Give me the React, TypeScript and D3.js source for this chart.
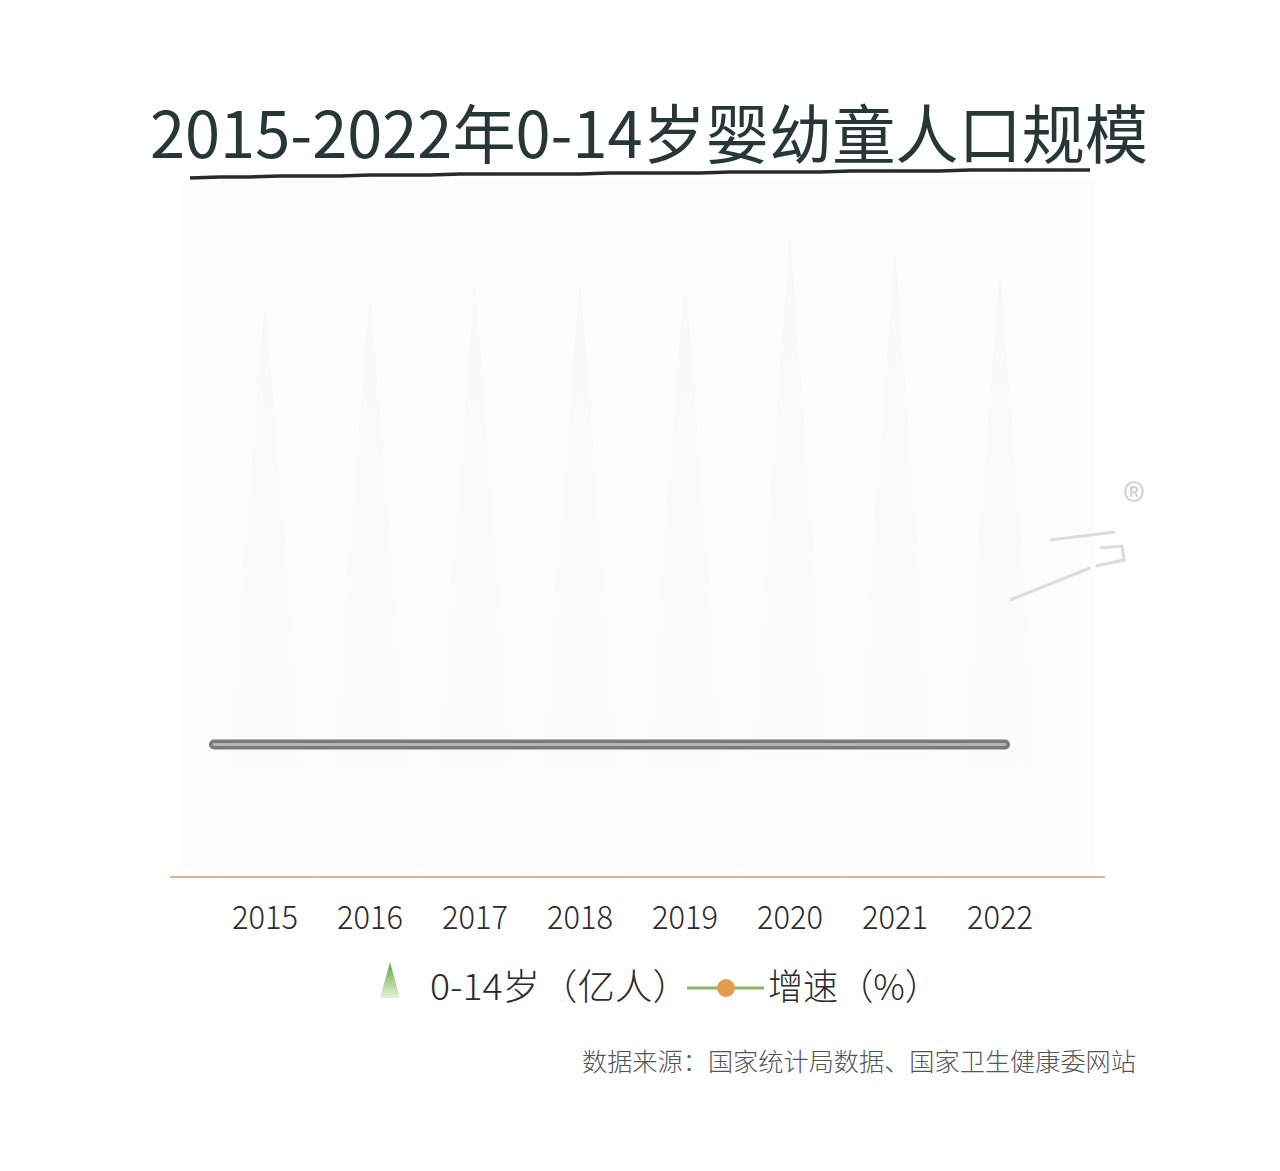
import React from "react";
import * as d3 from "d3";

const years = ["2015", "2016", "2017", "2018", "2019", "2020", "2021", "2022"];
// 0-14岁 (亿人) — bars are washed out in the reference, drawn nearly white
const population = [2.27, 2.3, 2.33, 2.35, 2.37, 2.53, 2.47, 2.39];
// 增速 (%) — the line reads as flat in the reference
const growth = [0.5, 0.5, 0.5, 0.5, 0.5, 0.5, 0.5, 0.5];

const TITLE = "2015-2022年0-14岁婴幼童人口规模";
const LEGEND_BAR = "0-14岁（亿人）";
const LEGEND_LINE = "增速（%）";
const SOURCE = "数据来源：国家统计局数据、国家卫生健康委网站";

const W = 1280;
const H = 1171;
const FONT = "'Noto Sans CJK SC', 'Noto Sans', sans-serif";

export default function App() {
  const x = d3.scalePoint<string>().domain(years).range([265, 1000]);
  const xLine = d3.scaleLinear().domain([0, years.length - 1]).range([214, 1005]);
  const y = d3.scaleLinear().domain([0, 2.7]).range([877, 190]);
  const yG = d3.scaleLinear().domain([-5, 5]).range([882, 632]);

  const line = d3
    .line<number>()
    .x((_, i) => xLine(i))
    .y((d) => yG(d))
    .curve(d3.curveMonotoneX);

  const tri = (cx: number, top: number, base: number, hw: number) =>
    `M${cx - hw},${base}L${cx},${top}L${cx + hw},${base}Z`;

  // wavy dark rule under the title
  const ruleX = d3.range(190, 1092, 30);
  const ruleY = [178, 177, 177, 176, 176, 176, 175, 175, 175, 174, 174, 174, 174, 174, 173, 173, 173, 173, 172, 172, 172, 172, 171, 171, 171, 171, 170, 170, 170, 170, 170];
  const rule = d3
    .line<number>()
    .x((d) => d)
    .y((_, i) => ruleY[Math.min(i, ruleY.length - 1)]);

  return (
    <div style={{ position: "absolute", left: 0, top: 0 }}>
      <svg width={W} height={H} viewBox={`0 0 ${W} ${H}`} style={{ display: "block", background: "#fff" }}>
        <defs>
          <linearGradient id="legTri" x1="0" y1="0" x2="0" y2="1">
            <stop offset="0%" stopColor="#5aa83a" />
            <stop offset="100%" stopColor="#e8f2dc" />
          </linearGradient>
          <linearGradient id="barTri" x1="0" y1="0" x2="0" y2="1">
            <stop offset="0%" stopColor="#f9f9f9" />
            <stop offset="100%" stopColor="#fcfcfc" />
          </linearGradient>
        </defs>

        {/* faint plot panel */}
        <rect x={182} y={180} width={912} height={690} fill="#fcfcfc" />

        {/* bars (pictorial triangles) */}
        {population.map((v, i) => (
          <path key={years[i]} d={tri(x(years[i])!, y(v), 877, 48)} fill="url(#barTri)" />
        ))}

        {/* title */}
        <text
          x={649}
          y={158}
          textAnchor="middle"
          fontFamily={FONT}
          fontSize={64}
          fontWeight={400}
          fill="#263833"
          textLength={998}
          lengthAdjust="spacingAndGlyphs"
        >
          {TITLE}
        </text>

        {/* dark rule under title */}
        <path d={rule(ruleX) || ""} fill="none" stroke="#2a2a2a" strokeWidth={3.5} />

        {/* growth line (rendered grey tube) */}
        <path d={line(growth) || ""} fill="none" stroke="#7a7a7a" strokeWidth={10} strokeLinecap="round" />
        <path d={line(growth) || ""} fill="none" stroke="#b5b5b5" strokeWidth={3} strokeLinecap="round" />

        {/* x axis */}
        <line x1={170} x2={1105} y1={877} y2={877} stroke="#d8b88e" strokeWidth={2} />
        {years.map((yr) => (
          <text
            key={yr}
            x={x(yr)}
            y={929}
            textAnchor="middle"
            fontFamily={FONT}
            fontSize={33}
            fontWeight={300}
            fill="#2b2b2b"
            textLength={66}
            lengthAdjust="spacingAndGlyphs"
          >
            {yr}
          </text>
        ))}

        {/* legend */}
        <path d="M390,962L400,998L380,998Z" fill="url(#legTri)" />
        <text
          x={430}
          y={1000}
          fontFamily={FONT}
          fontSize={36}
          fontWeight={300}
          fill="#2b2b2b"
          textLength={260}
          lengthAdjust="spacingAndGlyphs"
        >
          {LEGEND_BAR}
        </text>
        <line x1={687} x2={764} y1={988} y2={988} stroke="#8db463" strokeWidth={3} />
        <circle cx={726} cy={988} r={9} fill="#e39a4e" />
        <text
          x={768}
          y={1000}
          fontFamily={FONT}
          fontSize={36}
          fontWeight={300}
          fill="#2b2b2b"
          textLength={172}
          lengthAdjust="spacingAndGlyphs"
        >
          {LEGEND_LINE}
        </text>

        {/* source */}
        <text
          x={1136}
          y={1071}
          textAnchor="end"
          fontFamily={FONT}
          fontSize={25}
          fontWeight={300}
          fill="#555"
          textLength={554}
          lengthAdjust="spacingAndGlyphs"
        >
          {SOURCE}
        </text>

        {/* faint watermark */}
        <text x={1134} y={518} textAnchor="middle" fontFamily={FONT} fontSize={46} fill="#d2d2d2">
          ®
        </text>
        <g stroke="#dcdcdc" strokeWidth={3} fill="none">
          <path d="M1050,540L1115,532" />
          <path d="M1100,548L1122,546L1124,560L1096,566" />
          <path d="M1010,600L1090,568" />
        </g>
      </svg>
    </div>
  );
}
